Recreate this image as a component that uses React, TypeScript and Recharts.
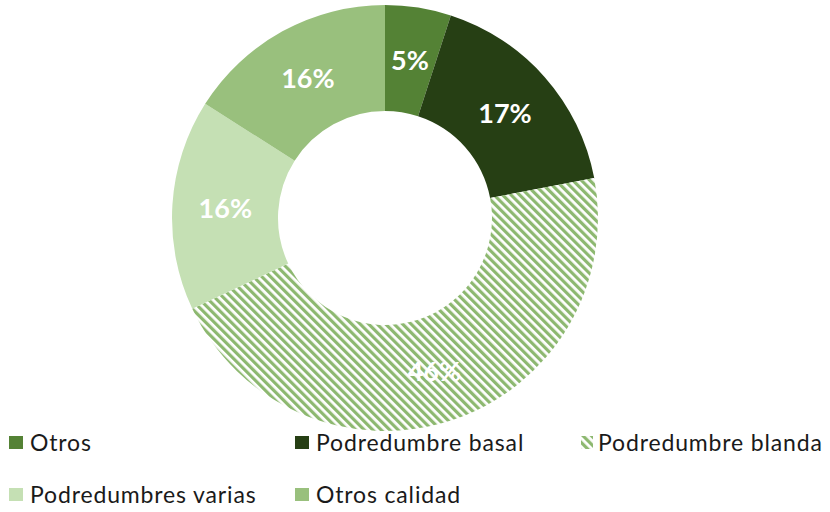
import { useEffect } from "react";
import { PieChart, Pie, Cell, Legend } from "recharts";

const categories = ["Otros", "Podredumbre basal", "Podredumbre blanda", "Podredumbres varias", "Otros calidad"];
const values = [5, 17, 46, 16, 16];
const colors = ["#548235", "#263f14", "url(#stripes)", "#c5e0b4", "#99c07d"];

const data = categories.map((name, i) => ({ name, value: values[i] }));

const RAD = Math.PI / 180;

const renderLabel = (props: any) => {
  const { cx, cy, midAngle, innerRadius, outerRadius, value } = props;
  const r = (innerRadius + outerRadius) / 2;
  const x = cx + r * Math.cos(-midAngle * RAD);
  const y = cy + r * Math.sin(-midAngle * RAD);
  return (
    <text
      x={x}
      y={y}
      fill="#ffffff"
      textAnchor="middle"
      dominantBaseline="central"
      style={{ fontFamily: "Lato", fontWeight: 700, fontSize: 27 }}
    >
      {value}%
    </text>
  );
};

const legendPos = [
  { x: 9, y: 442 },
  { x: 295, y: 442 },
  { x: 581, y: 442 },
  { x: 9, y: 494 },
  { x: 295, y: 494 }
];

const renderLegend = () => (
  <div style={{ position: "absolute", left: 0, top: 0, width: 830, height: 512 }}>
    {categories.map((name, i) => (
      <div
        key={name}
        style={{
          position: "absolute",
          left: legendPos[i].x,
          top: legendPos[i].y - 14,
          display: "flex",
          alignItems: "center",
          fontFamily: "Lato",
          fontSize: 23,
          letterSpacing: 0.85,
          color: "#1a1a1a",
          whiteSpace: "nowrap"
        }}
      >
        <svg width={i === 2 ? 12 : 14} height={13} style={{ marginRight: i === 2 ? 5 : 7 }}>
          <rect width={i === 2 ? 12 : 14} height={13} fill={colors[i]} />
        </svg>
        {name}
      </div>
    ))}
  </div>
);

export default function App() {
  useEffect(() => {
    document.body.style.margin = "0";
  }, []);

  return (
    <div style={{ width: 830, height: 512, background: "#ffffff", position: "relative" }}>
      <PieChart width={830} height={512} margin={{ top: 0, right: 0, bottom: 0, left: 0 }}>
        <defs>
          <pattern id="stripes" width={6} height={6} patternUnits="userSpaceOnUse" patternTransform="rotate(-45)">
            <rect width={6} height={6} fill="#ffffff" />
            <rect width={3.2} height={6} fill="#8db870" />
          </pattern>
        </defs>
        <Pie
          data={data}
          dataKey="value"
          nameKey="name"
          cx={385}
          cy={218}
          innerRadius={107}
          outerRadius={213}
          startAngle={90}
          endAngle={-270}
          stroke="none"
          label={renderLabel}
          labelLine={false}
          isAnimationActive={false}
        >
          {data.map((d, i) => (
            <Cell key={d.name} fill={colors[i]} />
          ))}
        </Pie>
        <Legend content={renderLegend} wrapperStyle={{ left: 0, top: 0, width: 830, height: 512 }} />
      </PieChart>
    </div>
  );
}
